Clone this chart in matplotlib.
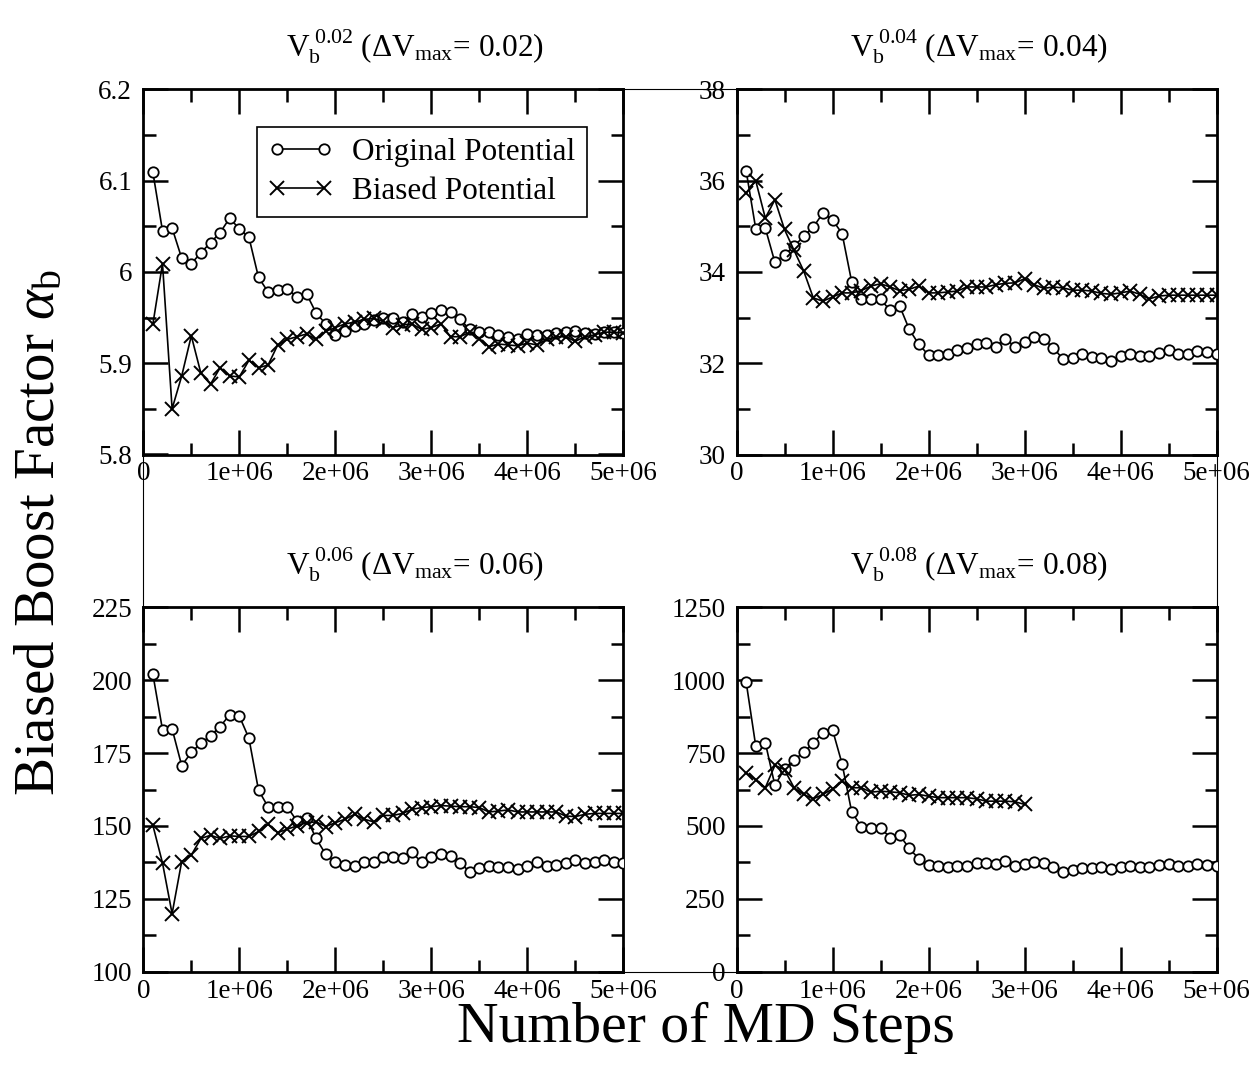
import matplotlib.pyplot as plt
import numpy as np
from matplotlib.ticker import MultipleLocator, FuncFormatter
from matplotlib.patches import Rectangle

plt.rcParams['font.family'] = 'Liberation Serif'
plt.rcParams['mathtext.fontset'] = 'custom'
plt.rcParams['mathtext.rm'] = 'Liberation Serif'
plt.rcParams['mathtext.it'] = 'Liberation Serif:italic'

# MD steps, sampled every 1e5
steps = np.arange(1, 51) * 1e5

orig_002 = [6.109, 6.045, 6.048, 6.015, 6.009, 6.021, 6.032, 6.043, 6.059, 6.047,
            6.038, 5.994, 5.978, 5.980, 5.981, 5.973, 5.976, 5.955, 5.943, 5.931,
            5.935, 5.941, 5.943, 5.947, 5.949, 5.950, 5.945, 5.954, 5.951, 5.955,
            5.958, 5.956, 5.948, 5.937, 5.934, 5.934, 5.931, 5.929, 5.927, 5.932,
            5.931, 5.931, 5.933, 5.934, 5.935, 5.933, 5.932, 5.934, 5.934, 5.933]
bias_002 = [5.943, 6.009, 5.850, 5.886, 5.930, 5.889, 5.877, 5.895, 5.886, 5.885,
            5.903, 5.895, 5.898, 5.920, 5.926, 5.929, 5.932, 5.926, 5.935, 5.939,
            5.943, 5.945, 5.948, 5.949, 5.946, 5.939, 5.942, 5.943, 5.937, 5.939,
            5.943, 5.929, 5.929, 5.934, 5.927, 5.918, 5.921, 5.920, 5.919, 5.922,
            5.920, 5.926, 5.929, 5.929, 5.924, 5.929, 5.931, 5.934, 5.934, 5.933]

orig_004 = [36.22, 34.95, 34.96, 34.21, 34.38, 34.56, 34.78, 34.98, 35.29, 35.14,
            34.84, 33.78, 33.40, 33.40, 33.40, 33.16, 33.25, 32.74, 32.41, 32.18,
            32.18, 32.21, 32.30, 32.34, 32.43, 32.45, 32.36, 32.54, 32.36, 32.47,
            32.58, 32.52, 32.34, 32.09, 32.12, 32.20, 32.14, 32.12, 32.05, 32.16,
            32.20, 32.16, 32.16, 32.23, 32.29, 32.21, 32.21, 32.27, 32.25, 32.21]
bias_004 = [35.73, 36.00, 35.18, 35.58, 34.93, 34.47, 34.02, 33.43, 33.36, 33.45,
            33.54, 33.54, 33.59, 33.69, 33.74, 33.67, 33.59, 33.62, 33.69, 33.54,
            33.54, 33.56, 33.58, 33.67, 33.67, 33.67, 33.72, 33.75, 33.76, 33.85,
            33.72, 33.64, 33.67, 33.65, 33.60, 33.60, 33.58, 33.53, 33.51, 33.54,
            33.58, 33.51, 33.41, 33.47, 33.49, 33.49, 33.49, 33.49, 33.49, 33.49]

orig_006 = [202.0, 183.0, 183.3, 170.7, 175.2, 178.4, 180.9, 184.1, 188.1, 187.7,
            180.1, 162.3, 156.5, 156.5, 156.5, 151.7, 152.8, 145.7, 140.3, 137.5,
            136.7, 136.4, 137.7, 137.7, 139.2, 139.5, 138.9, 140.9, 137.5, 139.2,
            140.3, 139.8, 137.3, 134.3, 135.5, 136.4, 136.0, 136.0, 135.2, 136.4,
            137.5, 136.4, 136.7, 137.3, 138.4, 137.3, 137.5, 138.3, 137.8, 137.3]
bias_006 = [150.2, 137.3, 119.9, 137.8, 140.0, 145.7, 146.8, 145.7, 146.6, 146.4,
            146.4, 148.1, 150.6, 147.7, 148.9, 150.0, 151.1, 151.4, 149.8, 151.1,
            152.3, 154.0, 152.3, 151.4, 153.6, 153.6, 154.3, 155.7, 156.3, 156.6,
            157.0, 156.8, 156.6, 156.6, 156.3, 154.8, 155.1, 155.5, 154.8, 154.8,
            154.8, 154.8, 154.8, 153.4, 153.2, 154.0, 154.3, 154.3, 154.3, 154.3]

orig_008 = [995, 775, 786, 639, 696, 727, 752, 784, 820, 830,
            713, 548, 498, 494, 494, 460, 468, 423, 387, 367,
            362, 358, 364, 362, 372, 373, 370, 381, 362, 370,
            375, 373, 360, 343, 350, 356, 356, 358, 352, 358,
            364, 358, 360, 366, 370, 362, 364, 370, 366, 362]
# biased run for 0.08 only went to 3e6 steps
bias_008 = [682, 659, 631, 708, 693, 631, 608, 593, 608, 627,
            653, 631, 631, 616, 619, 617, 614, 605, 608, 602,
            597, 597, 597, 597, 593, 585, 585, 585, 583, 574]

dvmax = ['0.02', '0.04', '0.06', '0.08']
originals = [orig_002, orig_004, orig_006, orig_008]
biased = [bias_002, bias_004, bias_006, bias_008]
ylims = [(5.8, 6.2), (30, 38), (100, 225), (0, 1250)]
ymajor = [0.1, 2, 25, 250]

W, H = 1259, 1076
fig = plt.figure(figsize=(W / 100, H / 100), dpi=100)

# panel boxes in pixels: left, top, right, bottom
boxes = [(143.3, 89.3, 623.3, 454.5), (736.5, 89.3, 1216.5, 454.5),
         (143.3, 607.3, 623.3, 971.7), (736.5, 607.3, 1216.5, 971.7)]
title_x = [0.566, 0.505, 0.566, 0.505]


def xfmt(v, pos):
    if v == 0:
        return '0'
    return '%de+06' % round(v / 1e6)


for i in range(4):
    l, t, r, b = boxes[i]
    ax = fig.add_axes([l / W, 1 - b / H, (r - l) / W, (b - t) / H])
    ax.plot(steps, originals[i], '-o', color='k', mfc='white', ms=7.5, mew=1.3, lw=1.2,
            label='Original Potential', zorder=3)
    ax.plot(steps[:len(biased[i])], biased[i], '-x', color='k', ms=9.5, mew=1.4, lw=1.2,
            label='Biased Potential', zorder=3)
    ax.set_xlim(0, 5e6)
    ax.set_ylim(*ylims[i])
    ax.xaxis.set_major_locator(MultipleLocator(1e6))
    ax.xaxis.set_minor_locator(MultipleLocator(5e5))
    ax.xaxis.set_major_formatter(FuncFormatter(xfmt))
    ax.yaxis.set_major_locator(MultipleLocator(ymajor[i]))
    ax.yaxis.set_minor_locator(MultipleLocator(ymajor[i] / 2))
    ax.yaxis.set_major_formatter(FuncFormatter(lambda v, p: '%g' % round(v, 4)))
    ax.tick_params(which='both', direction='in', top=True, right=True, width=1.8,
                   labelsize=19.5)
    ax.tick_params(which='major', length=18)
    ax.tick_params(which='minor', length=9)
    ax.tick_params(axis='x', pad=5)
    ax.tick_params(axis='y', pad=8)
    for s in ax.spines.values():
        s.set_linewidth(2)
    ax.text(title_x[i], 1.09,
            r'$\mathrm{V_b^{\ %s}}$ ($\Delta\mathrm{V_{max}}$= %s)' % (dvmax[i], dvmax[i]),
            transform=ax.transAxes, ha='center', va='baseline', fontsize=22.5)
    if i == 0:
        leg = ax.legend(loc='upper left', bbox_to_anchor=(0.237, 0.896), fontsize=22.5,
                        fancybox=False, edgecolor='k', framealpha=1, numpoints=2,
                        handlelength=2.1, borderpad=0.35, labelspacing=0.3,
                        handletextpad=0.6, borderaxespad=0)
        leg.get_frame().set_linewidth(1.2)

# thin outline round the whole grid
fig.add_artist(Rectangle((143.3 / W, 1 - 971.7 / H), (1216.5 - 143.3) / W, (971.7 - 89.3) / H,
                         transform=fig.transFigure, fill=False, lw=0.8, ec='k', zorder=0))

fig.text(706 / W, 1 - 1042 / H, 'Number of MD Steps', ha='center', va='baseline', fontsize=41.5)
fig.text(40 / W, 1 - 533 / H, r'Biased Boost Factor $\alpha_\mathrm{b}$', rotation=90,
         ha='center', va='center', fontsize=41)

fig.savefig('out.png', dpi=100)
